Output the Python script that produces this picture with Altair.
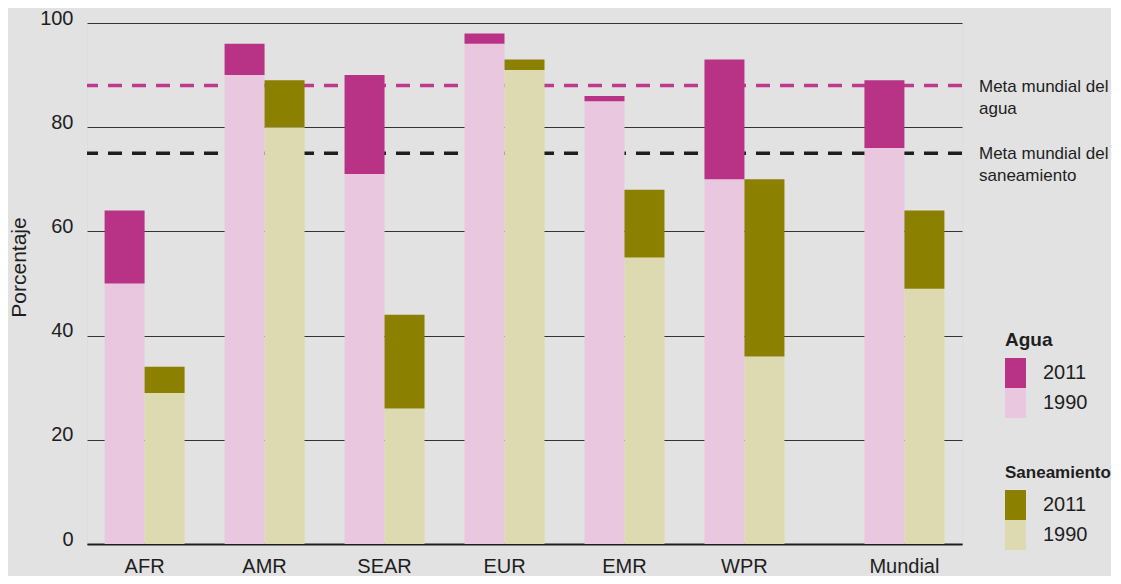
import altair as alt
import pandas as pd

# ---- data ----
regions = ["AFR", "AMR", "SEAR", "EUR", "EMR", "WPR", "Mundial"]
agua_1990 = [50, 90, 71, 96, 85, 70, 76]
agua_2011 = [64, 96, 90, 98, 86, 93, 89]
san_1990 = [29, 80, 26, 91, 55, 36, 49]
san_2011 = [34, 89, 44, 93, 68, 70, 64]

years = [2011, 1990]

meta_tipos = ["agua", "saneamiento"]
meta_valores = [88, 75]
meta_textos = ["Meta mundial del\nagua", "Meta mundial del\nsaneamiento"]

y_ticks = [0, 20, 40, 60, 80, 100]

# ---- colours ----
MAG, PINK = "#b83286", "#e9c8df"
OLIVE, KHAKI = "#8b8000", "#ddd9b0"
BG = "#e2e2e2"
INK = "#1e1e1e"
FONT = "Liberation Sans"

# ---- build tables ----
rows = []
for i, r in enumerate(regions):
    rows.append(dict(region=r, tipo="Agua", slot=f"{r}|Agua", year=1990, lo=0, hi=agua_1990[i]))
    rows.append(dict(region=r, tipo="Agua", slot=f"{r}|Agua", year=2011, lo=agua_1990[i], hi=agua_2011[i]))
    rows.append(dict(region=r, tipo="Saneamiento", slot=f"{r}|Saneamiento", year=1990, lo=0, hi=san_1990[i]))
    rows.append(dict(region=r, tipo="Saneamiento", slot=f"{r}|Saneamiento", year=2011, lo=san_1990[i], hi=san_2011[i]))
df = pd.DataFrame(rows)

metas = pd.DataFrame(dict(tipo=meta_tipos, valor=meta_valores, texto=meta_textos))

# slot domain: each bar is one slot; a blank slot between regions, two before the world total
slots = []
for i, r in enumerate(regions):
    if r == "Mundial":
        slots.append("_extra")
    slots += [f"{r}|Agua", f"{r}|Saneamiento"]
    if i < len(regions) - 1:
        slots.append(f"_gap{i}")

W, H = 875, 521

xscale = alt.Scale(domain=slots, paddingInner=0, paddingOuter=0.44)
yscale = alt.Scale(domain=[0, 100], nice=False)

xaxis = alt.Axis(
    title=None, labelAngle=0, labelOverlap=False, ticks=False, labelOffset=-20,
    labelExpr="indexof(datum.value, '|Saneamiento') > 0 ? split(datum.value, '|')[0] : ''",
    labelFontSize=20, labelColor=INK, labelPadding=12, labelFont=FONT,
    domainColor=INK, domainWidth=2, grid=False,
)
yaxis = alt.Axis(
    values=y_ticks, title="Porcentaje", titleFontSize=21, titleFontWeight="normal",
    titleColor=INK, titleFont=FONT, titlePadding=10, titleY=244,
    labelFontSize=20, labelColor=INK, labelPadding=14, labelOffset=-5, labelFont=FONT,
    ticks=False, domain=False, grid=True, gridColor="#333333", gridWidth=1,
)

RECT = "M-1,-1H0.4V1H-1Z"

def legend(title, ly, tsize):
    return alt.Legend(
        title=title, orient="none", legendX=918, legendY=ly,
        symbolType=RECT, symbolSize=900, symbolStrokeWidth=0, symbolOpacity=1,
        rowPadding=0, labelOffset=8, labelFontSize=20, labelColor=INK, labelFont=FONT,
        titleFontSize=tsize, titleFontWeight="bold", titleColor=INK, titleFont=FONT,
        titlePadding=8,
    )

base = alt.Chart(df)

# water: year as text, sanitation: year as number -> two separate legends
agua = base.transform_filter(alt.datum.tipo == "Agua").transform_calculate(
    anio_agua="'' + datum.year"
).mark_bar().encode(
    x=alt.X("slot:N", scale=xscale, axis=xaxis, sort=slots),
    y=alt.Y("lo:Q", scale=yscale, axis=yaxis),
    y2="hi:Q",
    color=alt.Color("anio_agua:N",
                    scale=alt.Scale(domain=[str(y) for y in years], range=[MAG, PINK]),
                    legend=legend("Agua", 308, 19)),
)

san = base.transform_filter(alt.datum.tipo == "Saneamiento").mark_bar().encode(
    x=alt.X("slot:N", scale=xscale, sort=slots),
    y=alt.Y("lo:Q", scale=yscale),
    y2="hi:Q",
    fill=alt.Fill("year:O", scale=alt.Scale(domain=years, range=[OLIVE, KHAKI]),
                  legend=legend("Saneamiento", 442, 17)),
)

reglas = alt.Chart(metas).mark_rule(strokeDash=[14, 10], strokeWidth=3.5).encode(
    y=alt.Y("valor:Q", scale=yscale),
    stroke=alt.Stroke("tipo:N", scale=alt.Scale(domain=meta_tipos, range=["#c0398f", INK]), legend=None),
)

textos = alt.Chart(metas).mark_text(
    align="left", baseline="alphabetic", dy=6, fontSize=17, lineHeight=22,
    lineBreak="\n", color=INK, font=FONT,
).encode(
    x=alt.value(W + 17),
    y=alt.Y("valor:Q", scale=yscale),
    text="texto:N",
)

chart = alt.layer(reglas, agua, san, textos).properties(
    width=W, height=H, padding=0, background=BG,
).configure_view(stroke=None).configure(font=FONT)

chart.save("out.html", embed_options={"renderer": "svg", "actions": False})
